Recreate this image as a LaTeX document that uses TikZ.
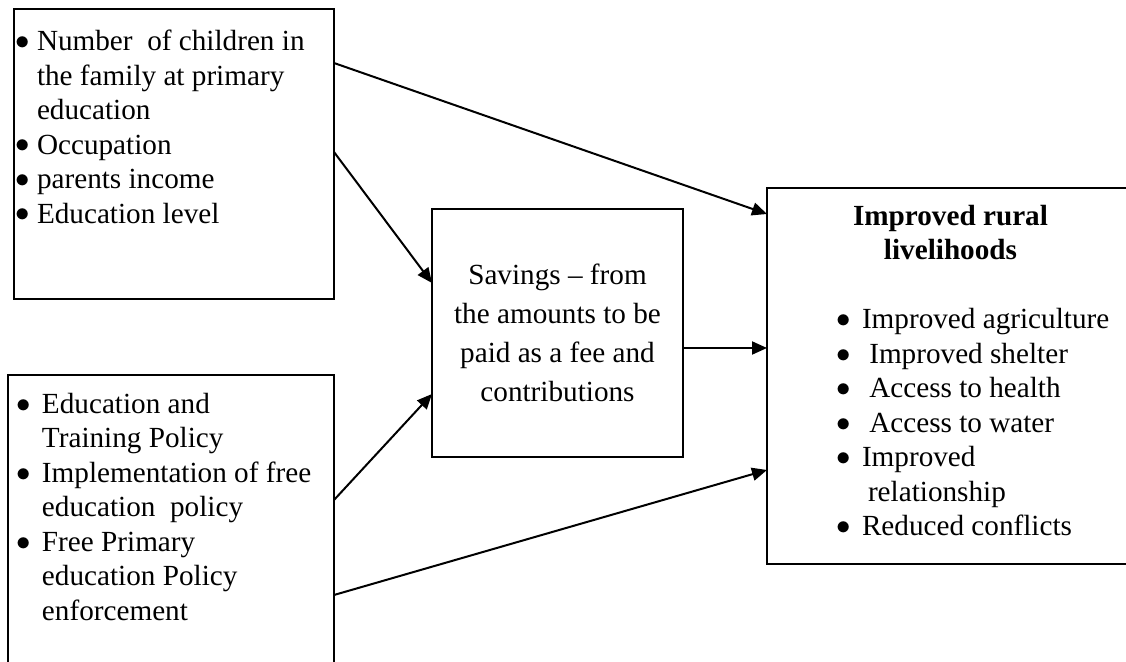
\documentclass[tikz,border=0pt]{standalone}
\usepackage{fontspec}
\setmainfont{Liberation Serif}
\usepackage{tikz}
\usetikzlibrary{shapes,arrows.meta,positioning}
\tikzstyle{arrow} = [line width=1pt,->,>={Triangle[length=7.5pt,width=6.5pt]}]

\newlength{\bulwd}
\newcommand{\bulsym}{\kern-0.5pt\raisebox{0.6pt}{$\bullet$}}
\newcommand{\bul}[1]{\par\hangindent=\bulwd\hangafter=1\noindent\makebox[\bulwd][l]{\bulsym}#1}
\newcommand{\boxtext}[4]{\parbox[c][#2][t]{#1}{\raggedright\vspace*{#3}#4\par}}

\begin{document}
\begin{tikzpicture}[font=\fontsize{14.6pt}{17.25pt}\selectfont]
    \tikzstyle{listbox}=[draw, line width=1pt, rectangle, anchor=north west, inner sep=0pt, outer sep=0pt]
    \tikzstyle{midbox}=[draw, line width=1pt, rectangle, anchor=north west, minimum width=125.5pt, minimum height=124pt, align=center, inner sep=0pt, outer sep=0pt, font=\fontsize{14.6pt}{19.5pt}\selectfont]

    \useasboundingbox (0,0) rectangle (563pt,-331pt);
    \clip (0,0) rectangle (563pt,-331pt);

    % factors on the left
    \node[listbox] (household) at (7pt,-4.5pt) {\boxtext{160pt}{145pt}{10.5pt}{%
        \leftskip=1.5pt \setlength{\bulwd}{10pt}%
        \bul{Number\ \ of children in\newline the family at primary\newline education}
        \bul{Occupation}
        \bul{parents income}
        \bul{Education level}}};
    \node[listbox] (policy) at (4pt,-187.5pt) {\boxtext{163pt}{165pt}{9pt}{%
        \leftskip=5pt \setlength{\bulwd}{12pt}%
        \bul{Education and\newline Training Policy}
        \bul{Implementation of free\newline education\ \ policy}
        \bul{Free Primary\newline education Policy\newline enforcement}}};

    % middle and outcome
    \node[midbox] (savings) at (216pt,-104.5pt) {Savings -- from\\the amounts to be\\paid as a fee and\\contributions};
    \node[listbox] (livelihood) at (383.5pt,-94pt) {\boxtext{183.5pt}{188pt}{8.5pt}{%
        {\centering\bfseries Improved rural\\livelihoods\par}
        \vspace{17.25pt}
        \leftskip=35pt \setlength{\bulwd}{12.5pt}%
        \bul{Improved agriculture}
        \bul{\ Improved shelter}
        \bul{\ Access to health}
        \bul{\ Access to water}
        \bul{Improved\newline\hspace*{3pt}relationship}
        \bul{Reduced conflicts}}};

    \draw[arrow] ([yshift=-27pt]household.north east) -- ([yshift=-13pt]livelihood.north west);
    \draw[arrow] ([yshift=-71.5pt]household.north east) -- ([yshift=-37pt]savings.north west);
    \draw[arrow] ([yshift=-62.5pt]policy.north east) -- ([yshift=-92.5pt]savings.north west);
    \draw[arrow] ([yshift=-110pt]policy.north east) -- ([yshift=-141pt]livelihood.north west);
    \draw[arrow] ([yshift=-69.5pt]savings.north east) -- ([yshift=-80pt]livelihood.north west);
\end{tikzpicture}
\end{document}
